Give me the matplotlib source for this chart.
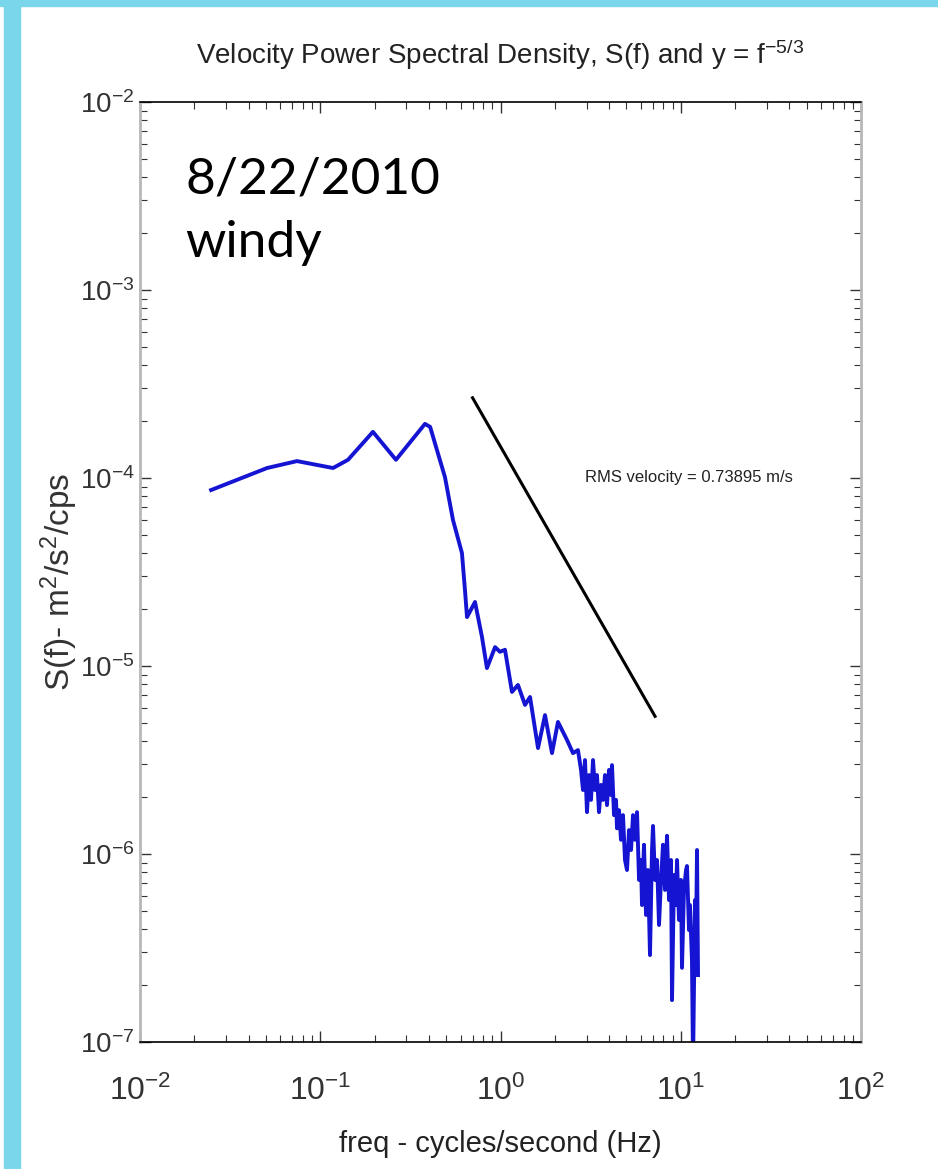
import numpy as np
import matplotlib.pyplot as plt
from matplotlib.patches import Rectangle

freq_hz = [0.0248, 0.0507, 0.0743, 0.1178, 0.1426, 0.196, 0.263, 0.381, 0.407,
           0.492, 0.545, 0.611, 0.635, 0.652, 0.722, 0.789, 0.841, 0.933, 0.993,
           1.059, 1.158, 1.25, 1.368, 1.458, 1.615, 1.766, 1.931, 2.084, 2.339,
           2.525, 2.69,
           2.797, 2.869, 2.943, 3.019, 3.097, 3.177, 3.260, 3.344, 3.430, 3.519,
           3.610, 3.704, 3.800, 3.898, 3.999, 4.103, 4.155, 4.263, 4.373, 4.429,
           4.544, 4.662, 4.782, 4.906, 5.033, 5.164, 5.297, 5.435, 5.576, 5.720,
           5.868, 6.020, 6.095, 6.253, 6.415, 6.581, 6.751, 6.926, 7.016, 7.198,
           7.384, 7.575, 7.772, 7.973, 8.179, 8.391, 8.608, 8.831, 8.944, 9.176,
           9.413, 9.533, 9.779, 10.03, 10.16, 10.42, 10.70, 10.83, 11.11, 11.25,
           11.54, 11.70, 12.00, 12.15, 12.31, 12.47]
psd = [8.63e-5, 1.13e-4, 1.23e-4, 1.13e-4, 1.25e-4, 1.76e-4, 1.25e-4, 1.94e-4, 1.87e-4,
       1.01e-4, 5.98e-5, 3.99e-5, 2.54e-5, 1.82e-5, 2.19e-5, 1.43e-5, 9.75e-6, 1.26e-5, 1.19e-5,
       1.22e-5, 7.28e-6, 7.93e-6, 6.21e-6, 6.84e-6, 3.66e-6, 5.48e-6, 3.44e-6, 5.04e-6, 4.04e-6,
       3.44e-6, 3.57e-6,
       2.80e-6, 2.19e-6, 3.16e-6, 1.67e-6, 2.63e-6, 1.94e-6, 3.16e-6, 2.19e-6, 2.63e-6, 1.67e-6,
       2.33e-6, 1.94e-6, 2.63e-6, 1.82e-6, 2.80e-6, 2.06e-6, 2.97e-6, 1.61e-6, 1.94e-6, 1.37e-6,
       1.71e-6, 1.19e-6, 1.61e-6, 9.29e-7, 8.22e-7, 1.34e-6, 1.05e-6, 1.61e-6, 1.19e-6, 1.67e-6,
       7.28e-7, 9.29e-7, 5.35e-7, 1.12e-6, 4.74e-7, 8.22e-7, 2.90e-7, 1.05e-6, 1.41e-6, 7.28e-7,
       9.29e-7, 4.19e-7, 7.28e-7, 1.12e-6, 6.44e-7, 1.25e-6, 5.69e-7, 9.29e-7, 1.67e-7, 7.73e-7,
       5.35e-7, 9.29e-7, 4.46e-7, 7.28e-7, 2.48e-7, 6.44e-7, 8.22e-7, 8.63e-7, 3.94e-7, 5.35e-7,
       2.73e-7, 7.55e-8, 5.69e-7, 3.49e-7, 1.05e-6, 2.27e-7]

# reference slope y = f^(-5/3), end points
ref_f = [0.70, 7.2]
ref_s = [2.67e-4, 5.4e-6]

rms_text = "RMS velocity = 0.73895 m/s"

plt.rcParams['font.family'] = ['Liberation Sans', 'DejaVu Sans']
plt.rcParams['mathtext.fontset'] = 'custom'
plt.rcParams['mathtext.rm'] = 'Liberation Sans'
plt.rcParams['mathtext.it'] = 'Liberation Sans'

W, H = 938, 1169
fig = plt.figure(figsize=(W / 100, H / 100), dpi=100)

# slide border
cyan = '#7ad6ea'
fig.patches.append(Rectangle((0, 1 - 6 / H), 1, 6 / H, transform=fig.transFigure,
                             color=cyan, zorder=0))
fig.patches.append(Rectangle((4 / W, 0), 16 / W, 1, transform=fig.transFigure,
                             color=cyan, zorder=0))

ax = fig.add_axes([140 / W, 1 - 1042 / H, 721 / W, 940 / H])
ax.set_xscale('log')
ax.set_yscale('log')
ax.set_xlim(1e-2, 1e2)
ax.set_ylim(1e-7, 1e-2)

ax.plot(freq_hz, psd, color='#1414d2', linewidth=2.8)
ax.plot(ref_f, ref_s, color='black', linewidth=2.2)

ax.text(2.94, 1e-4, rms_text, fontsize=12, va='center', ha='left', color='#222222')

ax.set_title(r'Velocity Power Spectral Density, S(f) and y = f$^{-5/3}$',
             fontsize=20, pad=27, color='#222222')
ax.set_xlabel('freq - cycles/second (Hz)', fontsize=21, color='#222222', va='top')
ax.xaxis.set_label_coords(0.5, -0.094)
ax.set_ylabel(r'S(f)- m$^2$/s$^2$/cps', fontsize=24, color='#333333')
ax.yaxis.set_label_coords(-0.083, 0.49)

ax.tick_params(which='both', direction='in', top=True, right=True, colors='#333333')
ax.tick_params(which='major', length=8, width=1)
ax.tick_params(which='minor', length=5, width=0.8)
ax.tick_params(axis='x', which='major', pad=24, labelsize=23)
ax.tick_params(axis='y', which='major', pad=4, labelsize=20)

for side in ['left', 'right']:
    ax.spines[side].set_color('#b8b8b8')
    ax.spines[side].set_linewidth(2)
for side in ['top', 'bottom']:
    ax.spines[side].set_color('black')
    ax.spines[side].set_linewidth(1.2)

fig.text(185 / W, 1 - 156 / H, '8/22/2010\nwindy', fontsize=37, family=['Lato', 'DejaVu Sans'],
         va='top', ha='left', linespacing=1.5, color='black')

fig.savefig('out.png', dpi=100)
